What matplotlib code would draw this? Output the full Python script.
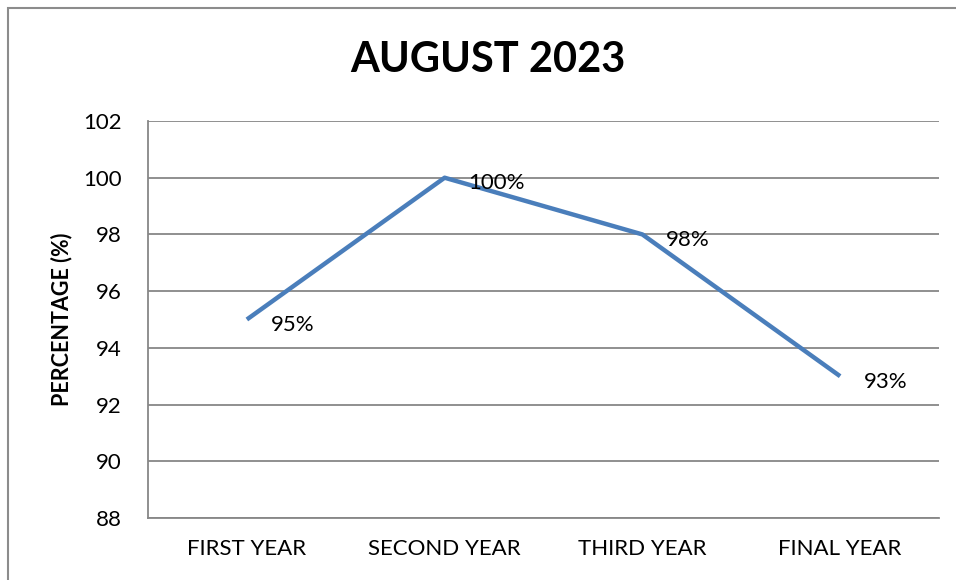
'''
Script used to plot August 2023 percentages per year
'''
import matplotlib
matplotlib.use('Agg')
import matplotlib.pyplot as plt
from matplotlib.patches import Rectangle

years    = ['FIRST YEAR', 'SECOND YEAR', 'THIRD YEAR', 'FINAL YEAR']
percents = [95, 100, 98, 93]
y_ticks  = [88, 90, 92, 94, 96, 98, 100, 102]
title    = 'AUGUST 2023'
ylabel   = 'PERCENTAGE (%)'

LINE_COLOR = '#4A7EBB'
GRID_COLOR = '#878787'
# ------------------------------------
def _initialize() -> None:
    plt.rcParams['font.family'] = ['Lato', 'DejaVu Sans']
# ------------------------------------
def _add_border(fig) -> None:
    width, height = 956, 580
    rect = Rectangle((8 / width, -0.1), 1.2, 1.1 - 8 / height,
                     transform=fig.transFigure, fill=False,
                     edgecolor='#8C8C8C', linewidth=1.5, clip_on=False)
    fig.add_artist(rect)
# ------------------------------------
def _plot() -> None:
    fig = plt.figure(figsize=(9.56, 5.8), dpi=100)
    _add_border(fig)

    ax = fig.add_axes([148 / 956, 1 - 518 / 580, (939 - 148) / 956, (518 - 121) / 580])

    x_pos = list(range(len(years)))
    ax.plot(x_pos, percents, color=LINE_COLOR, linewidth=3.2, solid_capstyle='butt')

    for xval, yval in zip(x_pos, percents):
        ax.annotate(f'{yval}%', (xval, yval), xytext=(17, -4), textcoords='offset points',
                    ha='left', va='center', fontsize=16, color='black')

    ax.set_xlim(-0.5, len(years) - 0.5)
    ax.set_ylim(y_ticks[0], y_ticks[-1])
    ax.set_yticks(y_ticks)
    ax.set_xticks(x_pos)
    ax.set_xticklabels(years)

    ax.grid(axis='y', color=GRID_COLOR, linewidth=1.3)
    ax.set_axisbelow(True)
    ax.tick_params(axis='both', length=0, labelsize=16, colors='black')
    ax.tick_params(axis='x', pad=15)
    ax.tick_params(axis='y', pad=19)

    for side in ['top', 'right']:
        ax.spines[side].set_visible(False)
    for side in ['left', 'bottom']:
        ax.spines[side].set_color(GRID_COLOR)
        ax.spines[side].set_linewidth(1.3)

    ax.set_ylabel(ylabel, fontsize=15.5, fontweight='bold', labelpad=8)
    fig.text(488 / 956, 1 - 60 / 580, title, ha='center', va='center',
             fontsize=30, fontweight='bold')

    fig.savefig('out.png', dpi=100)
    plt.close(fig)
# ------------------------------------
def main():
    '''
    start here
    '''
    _initialize()
    _plot()
# ------------------------------------
if __name__ == "__main__":
    main()
